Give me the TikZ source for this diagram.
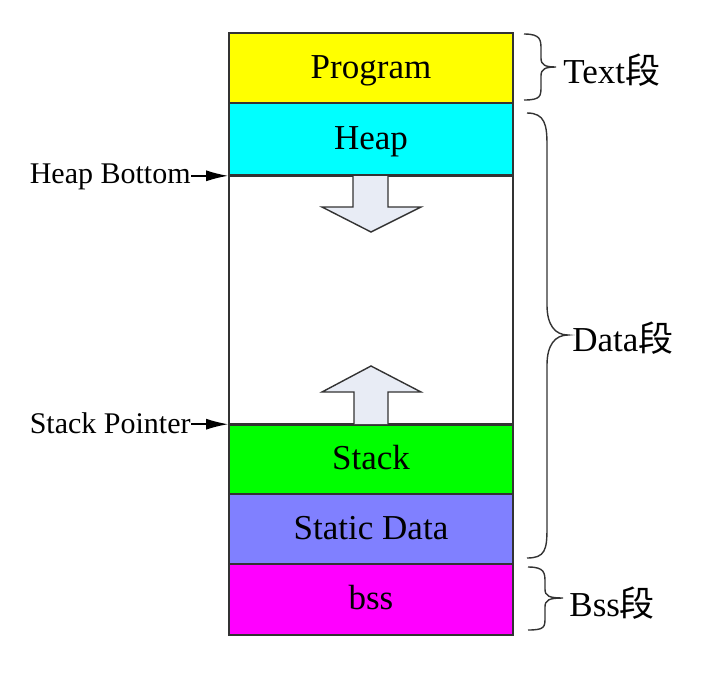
\documentclass[tikz,border=0pt]{standalone}
\usepackage{fontspec}
\setmainfont{Liberation Serif}
\newfontfamily\cjk{Noto Sans CJK SC}
\usetikzlibrary{arrows.meta}
\definecolor{edge}{HTML}{333333}
\definecolor{arrowfill}{HTML}{E8ECF5}
\definecolor{progyellow}{HTML}{FFFF00}
\definecolor{heapcyan}{HTML}{00FFFF}
\definecolor{stackgreen}{HTML}{00FF00}
\definecolor{staticblue}{HTML}{8080FF}
\definecolor{bssmagenta}{HTML}{FF00FF}
\tikzset{
  seg/.style={draw=edge, line width=0.8pt, minimum width=142pt, inner sep=0pt, text height=12.5pt, text depth=2.5pt, font=\fontsize{17.5}{20}\selectfont},
  sidelabel/.style={font=\fontsize{17.5}{20}\selectfont, anchor=west, inner sep=0pt},
  ptrlabel/.style={font=\fontsize{15}{18}\selectfont, anchor=mid east, inner sep=0pt},
  ptrarrow/.style={draw=black, line width=0.75pt, -{Latex[length=11pt,width=5.5pt]}},
  bracepath/.style={draw=edge, line width=0.7pt},
  blockarrow/.style={draw=edge, line width=0.7pt, fill=arrowfill, line join=miter}
}
\begin{document}
\begin{tikzpicture}[x=0.5pt,y=-0.5pt]
\useasboundingbox (0,0) rectangle (702,676);
% segments
\node[seg, fill=progyellow, minimum height=35pt] (prog) at (371,68) {Program};
\node[seg, fill=heapcyan, minimum height=36pt] (heap) at (371,139) {Heap};
\node[seg, fill=white, minimum height=125pt] (free) at (371,300) {};
\node[seg, fill=stackgreen, minimum height=34.5pt] (stack) at (371,459.5) {Stack};
\node[seg, fill=staticblue, minimum height=35pt] (static) at (371,529) {Static Data};
\node[seg, fill=bssmagenta, minimum height=35.5pt] (bss) at (371,599.5) {bss};
\draw[draw=edge, line width=0.8pt] (heap.south west) -- (heap.south east);
\draw[draw=edge, line width=0.8pt] (stack.north west) -- (stack.north east);
% block arrows
\draw[blockarrow] (353,176) -- (353,207) -- (322,207) -- (371,232) -- (421,207) -- (388,207) -- (388,176);
\draw[blockarrow] (354,424) -- (354,392) -- (322,392) -- (371,366) -- (421,392) -- (388,392) -- (388,424);
% pointer labels
\node[ptrlabel] (hb) at (191,179) {Heap Bottom};
\node[ptrlabel] (sp) at (191,429) {Stack Pointer};
\draw[ptrarrow] (hb.east |- heap.south west) -- (heap.south west);
\draw[ptrarrow] (sp.east |- stack.north west) -- (stack.north west);
% braces
\coordinate (tb) at (556,67);
\draw[bracepath] (524,34) .. controls (541,34) and (541,40) .. (541,50)
  -- (541,58) .. controls (541,65) and (545,67) .. (tb)
  .. controls (545,67) and (541,69) .. (541,76)
  -- (541,86) .. controls (541,96) and (541,100) .. (524,100);
\coordinate (db) at (568,335);
\draw[bracepath] (527,113) .. controls (545,113) and (547,125) .. (547,145)
  -- (547,305) .. controls (547,325) and (555,335) .. (db)
  .. controls (555,335) and (547,345) .. (547,365)
  -- (547,528) .. controls (547,550) and (545,558) .. (527,558);
\coordinate (bb) at (563,598);
\draw[bracepath] (528,567) .. controls (545,567) and (545,573) .. (545,583)
  -- (545,589) .. controls (545,596) and (549,598) .. (bb)
  .. controls (549,598) and (545,600) .. (545,607)
  -- (545,617) .. controls (545,627) and (545,630) .. (528,630);
\node[sidelabel] (tl) at (563,70) {Text{\cjk 段}};
\node[sidelabel] (dl) at (572,338) {Data{\cjk 段}};
\node[sidelabel] (bl) at (569,603) {Bss{\cjk 段}};
\end{tikzpicture}
\end{document}
